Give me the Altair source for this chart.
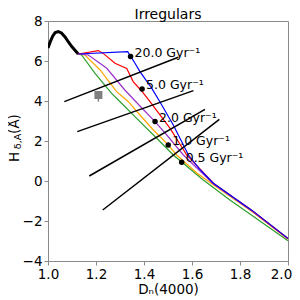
import altair as alt
import pandas as pd

# ---- data ----
black_x = [1.0, 1.01, 1.02, 1.03, 1.043, 1.056, 1.071, 1.085, 1.099, 1.126]
black_y = [6.65, 6.98, 7.25, 7.42, 7.47, 7.40, 7.20, 6.95, 6.72, 6.35]

green_x = [1.126, 1.14, 1.196, 1.265, 1.293, 1.383, 1.453, 1.522, 1.647, 1.758, 2.0]
green_y = [6.35, 6.30, 5.385, 4.385, 4.05, 2.965, 2.135, 1.30, 0.05, -0.95, -2.985]

orange_x = [1.126, 1.154, 1.217, 1.286, 1.335, 1.383, 1.439, 1.495, 1.536, 1.62, 1.69, 1.85, 2.0]
orange_y = [6.35, 6.30, 5.55, 4.465, 3.965, 3.30, 2.55, 1.885, 1.30, 0.40, -0.20, -1.52, -2.90]

purple_x = [1.126, 1.168, 1.245, 1.32, 1.383, 1.446, 1.495, 1.564, 1.69, 1.85, 2.0]
purple_y = [6.35, 6.30, 5.635, 4.55, 3.75, 2.965, 2.30, 1.30, -0.15, -1.50, -2.89]

red_x = [1.126, 1.21, 1.23, 1.279, 1.328, 1.355, 1.39, 1.425, 1.508, 1.578, 1.69, 1.85, 2.0]
red_y = [6.35, 6.52, 6.38, 5.885, 5.63, 4.97, 4.50, 3.97, 2.64, 1.30, -0.12, -1.48, -2.88]

blue_x = [1.126, 1.332, 1.3625, 1.383, 1.432, 1.474, 1.522, 1.585, 1.63, 1.6875, 1.85, 2.0]
blue_y = [6.35, 6.47, 5.885, 5.47, 4.64, 3.80, 2.80, 1.30, 0.62, -0.10, -1.47, -2.87]

seg_x1 = [1.068, 1.122, 1.172, 1.228]
seg_y1 = [3.97, 2.47, 0.25, -1.45]
seg_x2 = [1.543, 1.606, 1.654, 1.714]
seg_y2 = [6.19, 4.52, 3.58, 3.08]

dot_x = [1.344, 1.392, 1.446, 1.501, 1.557]
dot_y = [6.22, 4.60, 2.97, 1.80, 0.94]
dot_labels = ["20.0 Gyr⁻¹", "5.0 Gyr⁻¹", "2.0 Gyr⁻¹", "1.0 Gyr⁻¹", "0.5 Gyr⁻¹"]

obs_x = [1.21]
obs_y = [4.30]
obs_lo = [3.97]

x_ticks = [1.0, 1.2, 1.4, 1.6, 1.8, 2.0]
y_ticks = [-4, -2, 0, 2, 4, 6, 8]

title_text = ["Irregulars"]
x_title = "Dₙ(4000)"
y_title_parts = ["H", "δ,A", "(Å)"]

FONT = "DejaVu Sans"
GRAY = "#8a8a8a"

xscale = alt.Scale(domain=[1.0, 2.0], nice=False, zero=False)
yscale = alt.Scale(domain=[-4, 8], nice=False, zero=False)
X = alt.X("x:Q", scale=xscale,
          axis=alt.Axis(values=x_ticks, format=".1f", title=x_title,
                        labelOffset={"expr": "datum.value >= 1.99 ? -7 : 0"}))
Y = alt.Y("y:Q", scale=yscale, axis=alt.Axis(values=y_ticks, format="d", title=None))


def line_layer(xs, ys, color, width):
    df = pd.DataFrame({"x": xs, "y": ys, "o": list(range(len(xs)))})
    return alt.Chart(df).mark_line(color=color, strokeWidth=width, clip=True).encode(
        x=X, y=Y, order="o:Q")


layers = [line_layer(black_x, black_y, "black", 3.0)]
for xs, ys, col in [(green_x, green_y, "#2ca02c"),
                    (orange_x, orange_y, "#ffa500"),
                    (purple_x, purple_y, "#9932cc"),
                    (red_x, red_y, "#ff0000"),
                    (blue_x, blue_y, "#0000ff")]:
    layers.append(line_layer(xs, ys, col, 1.2))

seg_df = pd.DataFrame({"x": seg_x1, "y": seg_y1, "x2": seg_x2, "y2": seg_y2})
segs = alt.Chart(seg_df).mark_rule(color="black", strokeWidth=1.5).encode(
    x=X, y=Y, x2="x2:Q", y2="y2:Q")

obs_df = pd.DataFrame({"x": obs_x, "y": obs_y, "lo": obs_lo})
obs_bar = alt.Chart(obs_df).mark_rule(color="#808080", strokeWidth=1.5).encode(
    x=X, y=Y, y2="lo:Q")
obs_pt = alt.Chart(obs_df).mark_square(color="#808080", opacity=1, size=64).encode(x=X, y=Y)

dot_df = pd.DataFrame({"x": dot_x, "y": dot_y, "label": dot_labels})
dots = alt.Chart(dot_df).mark_circle(color="black", opacity=1, size=30).encode(x=X, y=Y)
labels = alt.Chart(dot_df).mark_text(align="left", baseline="middle", dx=4, dy=-4,
                                     font=FONT, fontSize=12.5, color="black").encode(
    x=X, y=Y, text="label:N")

ytitle_df = pd.DataFrame({"t": y_title_parts,
                          "px": [-33, -30.5, -33],
                          "py": [136, 120.5, 103],
                          "fs": [13.5, 9.5, 13.5]})
ytitle = alt.Chart(ytitle_df).mark_text(angle=270, align="center", baseline="middle",
                                        font=FONT, color="black").encode(
    x=alt.X("px:Q", scale=None), y=alt.Y("py:Q", scale=None), text="t:N",
    size=alt.Size("fs:Q", scale=None))

title_df = pd.DataFrame({"t": title_text})
title = alt.Chart(title_df).mark_text(align="center", baseline="alphabetic", font=FONT,
                                      fontSize=14, color="black").encode(
    x=alt.value(120), y=alt.value(-2.5), text="t:N")

chart = alt.layer(*layers, segs, obs_bar, obs_pt, dots, labels, ytitle, title).properties(
    width=240, height=240,
    autosize=alt.AutoSizeParams(type="none"),
    padding={"left": 40, "top": 13, "right": 4, "bottom": 36},
).configure_axis(
    grid=False, domainColor=GRAY, tickColor=GRAY, tickSize=4, labelPadding=2,
    labelFont=FONT, labelFontSize=13.5, labelColor="black", labelFlush=False,
    labelOverlap=False,
    titleFont=FONT, titleFontSize=13.5, titleFontWeight="normal", titleColor="black",
    titlePadding=2,
).configure_view(stroke=GRAY)

chart.save("out.html", embed_options={"renderer": "svg", "actions": False})
